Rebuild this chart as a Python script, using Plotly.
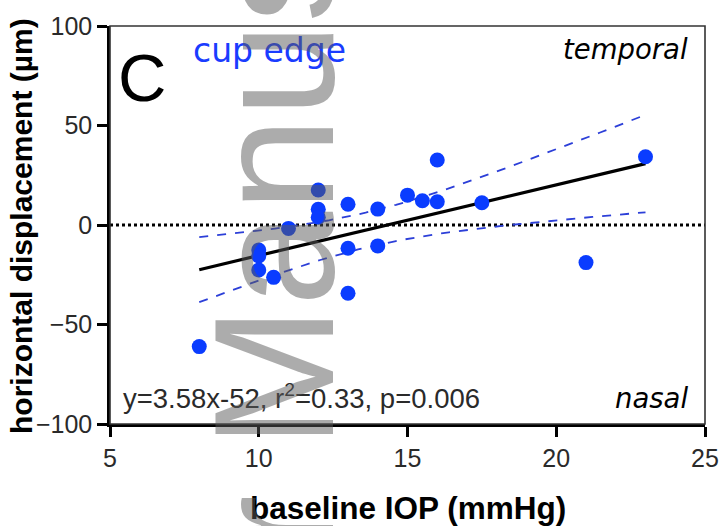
import numpy as np
import plotly.graph_objects as go

# data
iop = [8, 10, 10, 10, 10.5, 11, 12, 12, 12, 13, 13, 13, 14, 14, 15, 15.5, 16, 16, 17.5, 21, 23]
disp = [-61.1, -12.6, -15.6, -22.6, -26.3, -1.7, 17.6, 7.9, 3.9, 10.4, -11.7, -34.3, 8.0, -10.5,
        15.0, 12.2, 32.7, 11.7, 11.2, -18.9, 34.3]
x_ticks = [5, 10, 15, 20, 25]
y_ticks = [-100, -50, 0, 50, 100]
eq_text = "y=3.58x-52, r<sup>2</sup>=0.33, p=0.006"

x = np.array(iop, float)
y = np.array(disp, float)
n = len(x)
slope, icpt = np.polyfit(x, y, 1)
xf = np.linspace(x.min(), x.max(), 60)
yf = slope * xf + icpt
resid = y - (slope * x + icpt)
s = np.sqrt(np.sum(resid ** 2) / (n - 2))
sxx = np.sum((x - x.mean()) ** 2)
tval = 2.093
half = tval * s * np.sqrt(1.0 / n + (xf - x.mean()) ** 2 / sxx)

L, R, T, B = 110, 15, 26, 102
W, H = 720, 526
PW, PH = W - L - R, H - T - B


def px(xp):
    return (xp - L) / PW


def py(yp):
    return (H - B - yp) / PH


fig = go.Figure()
fig.add_trace(go.Scatter(x=[5, 25], y=[0, 0], mode="lines",
                         line=dict(color="black", width=3, dash="dot"), hoverinfo="skip"))
fig.add_trace(go.Scatter(x=xf, y=yf + half, mode="lines",
                         line=dict(color="#2c3fd8", width=1.8, dash="dash")))
fig.add_trace(go.Scatter(x=xf, y=yf - half, mode="lines",
                         line=dict(color="#2c3fd8", width=1.8, dash="dash")))
fig.add_trace(go.Scatter(x=xf, y=yf, mode="lines", line=dict(color="black", width=3.2)))
fig.add_trace(go.Scatter(x=iop, y=disp, mode="markers",
                         marker=dict(color="#0a3cff", size=15, line=dict(width=0))))

axis_font = dict(family="Liberation Sans, Arial", size=25, color="#2a2a2a")
fig.update_layout(
    width=W, height=H, showlegend=False,
    margin=dict(l=L, r=R, t=T, b=B),
    plot_bgcolor="white", paper_bgcolor="white",
    xaxis=dict(range=[5, 25], tickvals=x_ticks, ticks="outside", ticklen=10, tickwidth=2.5,
               tickcolor="black", showline=True, linecolor="black", linewidth=2.5,
               showgrid=False, zeroline=False, tickfont=axis_font, automargin=False),
    yaxis=dict(range=[-100, 100], tickvals=y_ticks, ticks="outside", ticklen=10, tickwidth=2.5,
               tickcolor="black", showline=True, linecolor="black", linewidth=2.5,
               showgrid=False, zeroline=False, tickfont=axis_font, automargin=False),
)
# thin top/right frame
fig.add_shape(type="rect", xref="paper", yref="paper", x0=0, x1=1, y0=0, y1=1,
              line=dict(color="#333", width=1.6), layer="above")

# axis titles
fig.add_annotation(xref="paper", yref="paper", x=px(22), y=py(226), xanchor="center",
                   yanchor="middle", text="<b>horizontal displacement (µm)</b>", textangle=-90,
                   showarrow=False,
                   font=dict(family="Liberation Sans, Arial", size=30, color="black"))
fig.add_annotation(xref="paper", yref="paper", x=px(408), y=py(508), xanchor="center",
                   yanchor="middle", text="<b>baseline IOP (mmHg)</b>", showarrow=False,
                   font=dict(family="Liberation Sans, Arial", size=31.5, color="black"))

fig.add_annotation(xref="paper", yref="paper", x=px(116), y=py(38), xanchor="left", yanchor="top",
                   text="C", showarrow=False,
                   font=dict(family="Liberation Sans, Arial", size=67, color="black"))
fig.add_annotation(xref="paper", yref="paper", x=px(191), y=py(29), xanchor="left", yanchor="top",
                   text="cup edge", showarrow=False,
                   font=dict(family="DejaVu Sans", size=33, color="#1a3cff"))
fig.add_annotation(xref="paper", yref="paper", x=px(690), y=py(31), xanchor="right", yanchor="top",
                   text="<i>temporal</i>", showarrow=False,
                   font=dict(family="DejaVu Sans", size=27.5, color="black"))
fig.add_annotation(xref="paper", yref="paper", x=px(690), y=py(416), xanchor="right",
                   yanchor="bottom", text="<i>nasal</i>", showarrow=False,
                   font=dict(family="DejaVu Sans", size=27.5, color="black"))
fig.add_annotation(xref="paper", yref="paper", x=px(121), y=py(416), xanchor="left",
                   yanchor="bottom", text=eq_text, showarrow=False,
                   font=dict(family="Liberation Sans, Arial", size=27.5, color="#2a2a2a"))

# watermark
fig.add_annotation(xref="paper", yref="paper", x=px(274), y=py(306), xanchor="center",
                   yanchor="middle", text="Author Manuscript", textangle=-90, showarrow=False,
                   font=dict(family="Liberation Sans, Arial", size=170, color="rgba(90,90,90,0.5)"))

fig.write_html("out.html")
